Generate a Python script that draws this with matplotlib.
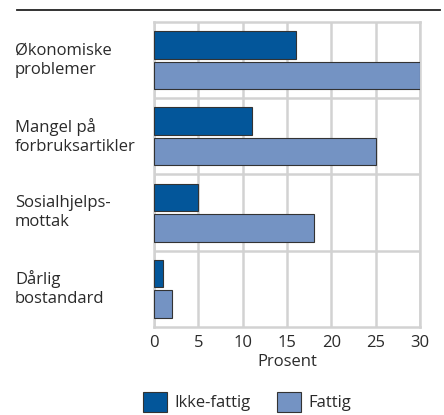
import matplotlib.pyplot as plt
import numpy as np
from matplotlib.lines import Line2D

plt.rcParams['font.family'] = ['Open Sans', 'DejaVu Sans']

# data
categories = ["Økonomiske\nproblemer", "Mangel på\nforbruksartikler",
              "Sosialhjelps-\nmottak", "Dårlig\nbostandard"]
ikke_fattig = [16, 11, 5, 1]
fattig = [30, 25, 18, 2]
series_names = ["Ikke-fattig", "Fattig"]
xticks = [0, 5, 10, 15, 20, 25, 30]

dark = "#03569a"
light = "#7493c3"
grid_c = "#d2d2d2"
txt_c = "#2a2a2a"
fs = 12

fig = plt.figure(figsize=(4.44, 4.15), dpi=100)
ax = fig.add_axes([154/444, 1 - 327/415, 266/444, 305/415])

y = np.arange(len(categories))
h = 0.36
ax.barh(y - 0.2, ikke_fattig, height=h, color=dark, edgecolor="#333333", linewidth=0.8,
        label=series_names[0], zorder=3)
ax.barh(y + 0.2, fattig, height=h, color=light, edgecolor="#333333", linewidth=0.8,
        label=series_names[1], zorder=3)

ax.set_xlim(0, 30)
ax.set_ylim(3.5, -0.5)
ax.set_xticks(xticks)
ax.set_yticks([])
for xv in xticks:
    ax.axvline(xv, color=grid_c, lw=1.8, zorder=1)
for yv in [0.5, 1.5, 2.5]:
    ax.axhline(yv, color=grid_c, lw=1.8, zorder=1)
for s in ax.spines.values():
    s.set_color(grid_c)
    s.set_linewidth(1.8)
ax.tick_params(axis="x", length=0, labelsize=fs, pad=6, colors=txt_c)
ax.set_xlabel("Prosent", fontsize=fs, labelpad=2, color=txt_c)

for i, lab in enumerate(categories):
    fig.text(15/444, ax.transData.transform((0, i))[1] / fig.bbox.height,
             lab, ha="left", va="center", fontsize=fs, color=txt_c, linespacing=1.25)

# top rule
fig.add_artist(Line2D([17/444, 440/444], [1 - 10/415, 1 - 10/415], color="#222222", lw=1.3))

leg = fig.legend(loc="lower center", bbox_to_anchor=(0.557, 0.0), ncol=2, frameon=False,
                 fontsize=fs, handlelength=1.45, handleheight=1.45, columnspacing=1.6,
                 handletextpad=0.42, borderaxespad=0.1, borderpad=0.1)
for t in leg.get_texts():
    t.set_color(txt_c)

fig.savefig("out.png", dpi=100)
